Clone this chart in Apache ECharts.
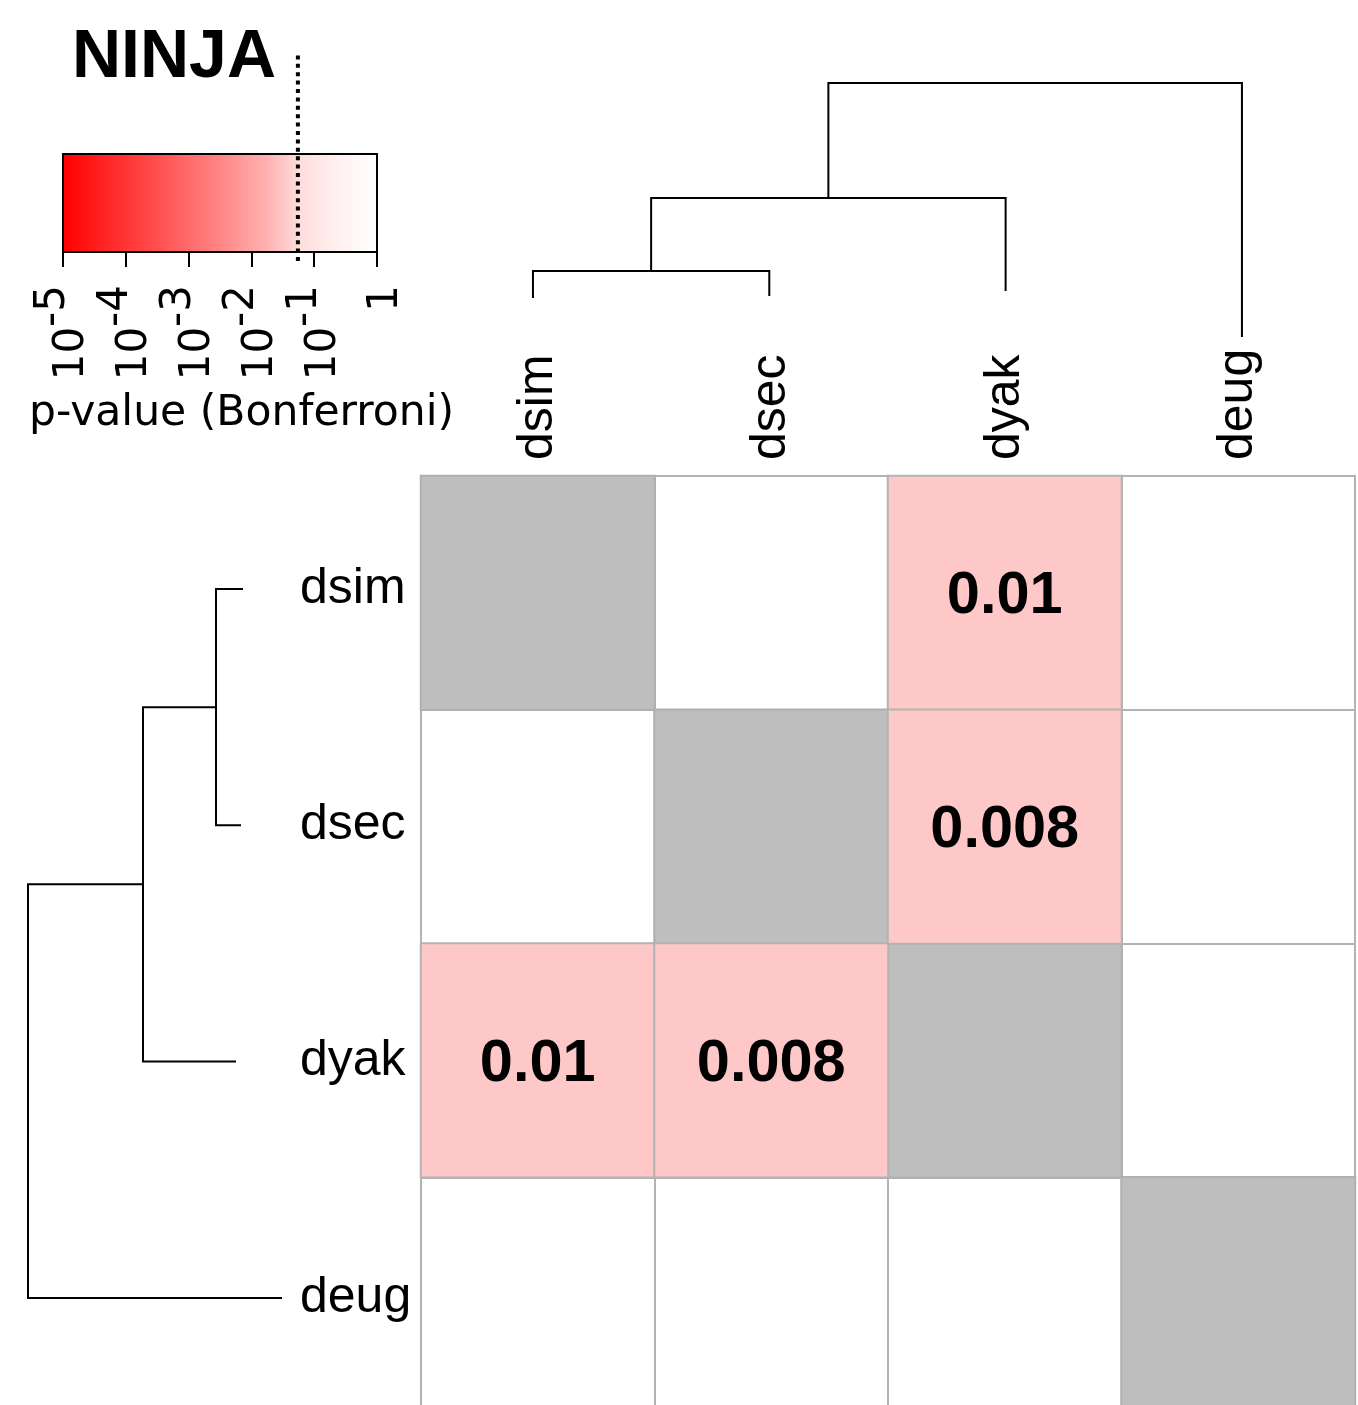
<!DOCTYPE html>
<html>
<head>
<meta charset="utf-8">
<script src="https://cdn.jsdelivr.net/npm/echarts@6/dist/echarts.min.js"></script>
<style>html,body{margin:0;padding:0;background:#fff;}#chart{width:1358px;height:1405px;}</style>
</head>
<body>
<div id="chart"></div>
<script>
// ---- data ----
const species = ['dsim', 'dsec', 'dyak', 'deug'];
// significant pairwise p-values (Bonferroni), symmetric
const sigRow = ['dsim', 'dsec', 'dyak', 'dyak'];
const sigCol = ['dyak', 'dyak', 'dsim', 'dsec'];
const sigP = [0.01, 0.008, 0.01, 0.008];
// colour-key ticks (log10 p)
const keyTicks = [-5, -4, -3, -2, -1, 0];
const threshold = 0.055;
// dendrogram (leaf order = species)
const leafEndHeights = [0.42, 0.44, 0.49, 0.03];
const mergeA = ['dsim', 'm1', 'm2'];
const mergeB = ['dsec', 'dyak', 'deug'];
const mergeHeights = [0.69, 1.42, 2.57];

// ---- build dendrogram segments ----
const nodePos = {}, nodeH = {};
species.forEach((s, i) => { nodePos[s] = i; nodeH[s] = leafEndHeights[i]; });
const dendroItems = [];
mergeA.forEach((a, k) => {
  const b = mergeB[k], h = mergeHeights[k];
  dendroItems.push([nodePos[a], nodeH[a], nodePos[b], nodeH[b], h]);
  const id = 'm' + (k + 1);
  nodePos[id] = (nodePos[a] + nodePos[b]) / 2;
  nodeH[id] = h;
});
const leafIdx = species.map((s, i) => i);

const diagData = species.map((s, i) => [i, i, 1]);
const sigData = sigP.map((p, k) => [species.indexOf(sigCol[k]), species.indexOf(sigRow[k]), p]);

const chart = echarts.init(document.getElementById('chart'), null, {renderer: 'canvas'});

function dendroRender(horizontal) {
  return function (params, api) {
    const xa = api.value(0), ha = api.value(1), xb = api.value(2), hb = api.value(3), h = api.value(4);
    const c = horizontal ? (pos, hh) => api.coord([hh, pos]) : (pos, hh) => api.coord([pos, hh]);
    return {
      type: 'polyline',
      shape: {points: [c(xa, ha), c(xa, h), c(xb, h), c(xb, hb)]},
      style: {stroke: '#000', lineWidth: 2, fill: null}
    };
  };
}

const keyFont = 'DejaVu Sans';
const ob = {outerBoundsMode: 'none', containLabel: false};
const option = {
  backgroundColor: '#fff',
  animation: false,
  title: [
    {text: 'NINJA', left: 72, top: 24, padding: 0,
     textStyle: {fontSize: 68, fontWeight: 'bold', fontFamily: 'Liberation Sans', color: '#000'}},
    {text: 'p-value (Bonferroni)', left: 29, top: 392, padding: 0,
     textStyle: {fontSize: 42.5, fontWeight: 'normal', fontFamily: keyFont, color: '#000'}}
  ],
  grid: [
    // 0 heatmap
    Object.assign({left: 421, top: 476, width: 934, height: 935, show: true, borderColor: '#b3b3b3', borderWidth: 2, backgroundColor: '#fff'}, ob),
    // 1 top dendrogram
    Object.assign({left: 414.8, top: 40, width: 945.3, height: 300}, ob),
    // 2 left dendrogram
    Object.assign({left: 5, top: 470.8, width: 280, height: 945.3}, ob),
    // 3 colour key bar
    Object.assign({left: 63, top: 154, width: 314, height: 98}, ob),
    // 4 threshold line
    Object.assign({left: 63, top: 52, width: 314, height: 209}, ob)
  ],
  xAxis: [
    {gridIndex: 0, type: 'category', data: species, position: 'top',
     axisLine: {show: false}, axisTick: {show: false},
     splitLine: {show: true, interval: 0, lineStyle: {color: '#b3b3b3', width: 2}},
     axisLabel: {interval: 0, rotate: -90, margin: 16, fontSize: 50, fontFamily: 'Liberation Sans', color: '#000'}},
    {gridIndex: 1, type: 'value', min: -0.5, max: 3.5, show: false},
    {gridIndex: 2, type: 'value', min: 0, max: 2.8, inverse: true, show: false},
    {gridIndex: 3, type: 'value', min: -5, max: 0, interval: 1, position: 'bottom', offset: 9,
     axisLine: {show: true, lineStyle: {color: '#000', width: 2}},
     axisTick: {show: true, length: 15, lineStyle: {color: '#000', width: 2}},
     splitLine: {show: false},
     axisLabel: {rotate: 90, margin: 24, color: '#000',
       formatter: v => v === 0 ? '{n|1}{s|\u200b}' : '{n|10}{e|' + v + '}{s|\u200b}',
       rich: {
         n: {fontSize: 42, fontFamily: keyFont, color: '#000', verticalAlign: 'bottom', lineHeight: 44},
         e: {fontSize: 42, fontFamily: keyFont, color: '#000', verticalAlign: 'top', lineHeight: 44},
         s: {fontSize: 42, fontFamily: keyFont, color: '#000', verticalAlign: 'middle', lineHeight: 61}
       }}},
    {gridIndex: 4, type: 'value', min: -5, max: 0, show: false}
  ],
  yAxis: [
    {gridIndex: 0, type: 'category', data: species, inverse: true,
     axisLine: {show: false}, axisTick: {show: false},
     splitLine: {show: true, interval: 0, lineStyle: {color: '#b3b3b3', width: 2}},
     axisLabel: {show: false}},
    {gridIndex: 1, type: 'value', min: 0, max: 3, show: false},
    {gridIndex: 2, type: 'value', min: -0.5, max: 3.5, inverse: true, position: 'right',
     axisLine: {show: false}, axisTick: {show: false}, splitLine: {show: false},
     axisLabel: {customValues: leafIdx, formatter: v => species[v], align: 'left', margin: 15,
                 fontSize: 50, fontFamily: 'Liberation Sans', color: '#000'}},
    {gridIndex: 3, type: 'value', min: 0, max: 1, show: false},
    {gridIndex: 4, type: 'value', min: 0, max: 1, show: false}
  ],
  series: [
    {type: 'heatmap', xAxisIndex: 0, yAxisIndex: 0, data: diagData,
     itemStyle: {color: '#bebebe', borderColor: '#b0b0b0', borderWidth: 2},
     label: {show: false}, emphasis: {disabled: true}},
    {type: 'heatmap', xAxisIndex: 0, yAxisIndex: 0, data: sigData,
     itemStyle: {color: '#ffc8c8', borderColor: '#b3b3b3', borderWidth: 2},
     label: {show: true, formatter: p => String(p.value[2]), fontSize: 59.5, fontWeight: 'bold',
             fontFamily: 'Liberation Sans', color: '#000', offset: [0, 4]},
     emphasis: {disabled: true}},
    {type: 'custom', xAxisIndex: 1, yAxisIndex: 1, data: dendroItems, renderItem: dendroRender(false), silent: true},
    {type: 'custom', xAxisIndex: 2, yAxisIndex: 2, data: dendroItems, renderItem: dendroRender(true), silent: true},
    {type: 'custom', xAxisIndex: 3, yAxisIndex: 3, data: [[keyTicks[0], keyTicks[keyTicks.length - 1]]], silent: true,
     renderItem: function (params, api) {
       const p0 = api.coord([api.value(0), 1]);
       const p1 = api.coord([api.value(1), 0]);
       return {type: 'rect', shape: {x: p0[0], y: p0[1], width: p1[0] - p0[0], height: p1[1] - p0[1]},
         style: {fill: new echarts.graphic.LinearGradient(0, 0, 1, 0, [
           {offset: 0, color: '#ff0000'}, {offset: 0.3, color: '#ff4f4f'}, {offset: 0.5, color: '#ff8585'},
           {offset: 0.65, color: '#ffb2b2'}, {offset: 0.75, color: '#ffdcdc'}, {offset: 0.87, color: '#fff0f0'},
           {offset: 1, color: '#ffffff'}]), stroke: '#000', lineWidth: 2}};
     }},
    {type: 'line', xAxisIndex: 4, yAxisIndex: 4, symbol: 'none', silent: true,
     data: [[Math.log10(threshold), 0], [Math.log10(threshold), 1]],
     lineStyle: {color: '#000', width: 4, type: [4, 4.4], cap: 'butt'}}
  ]
};
chart.setOption(option);
</script>
</body>
</html>
